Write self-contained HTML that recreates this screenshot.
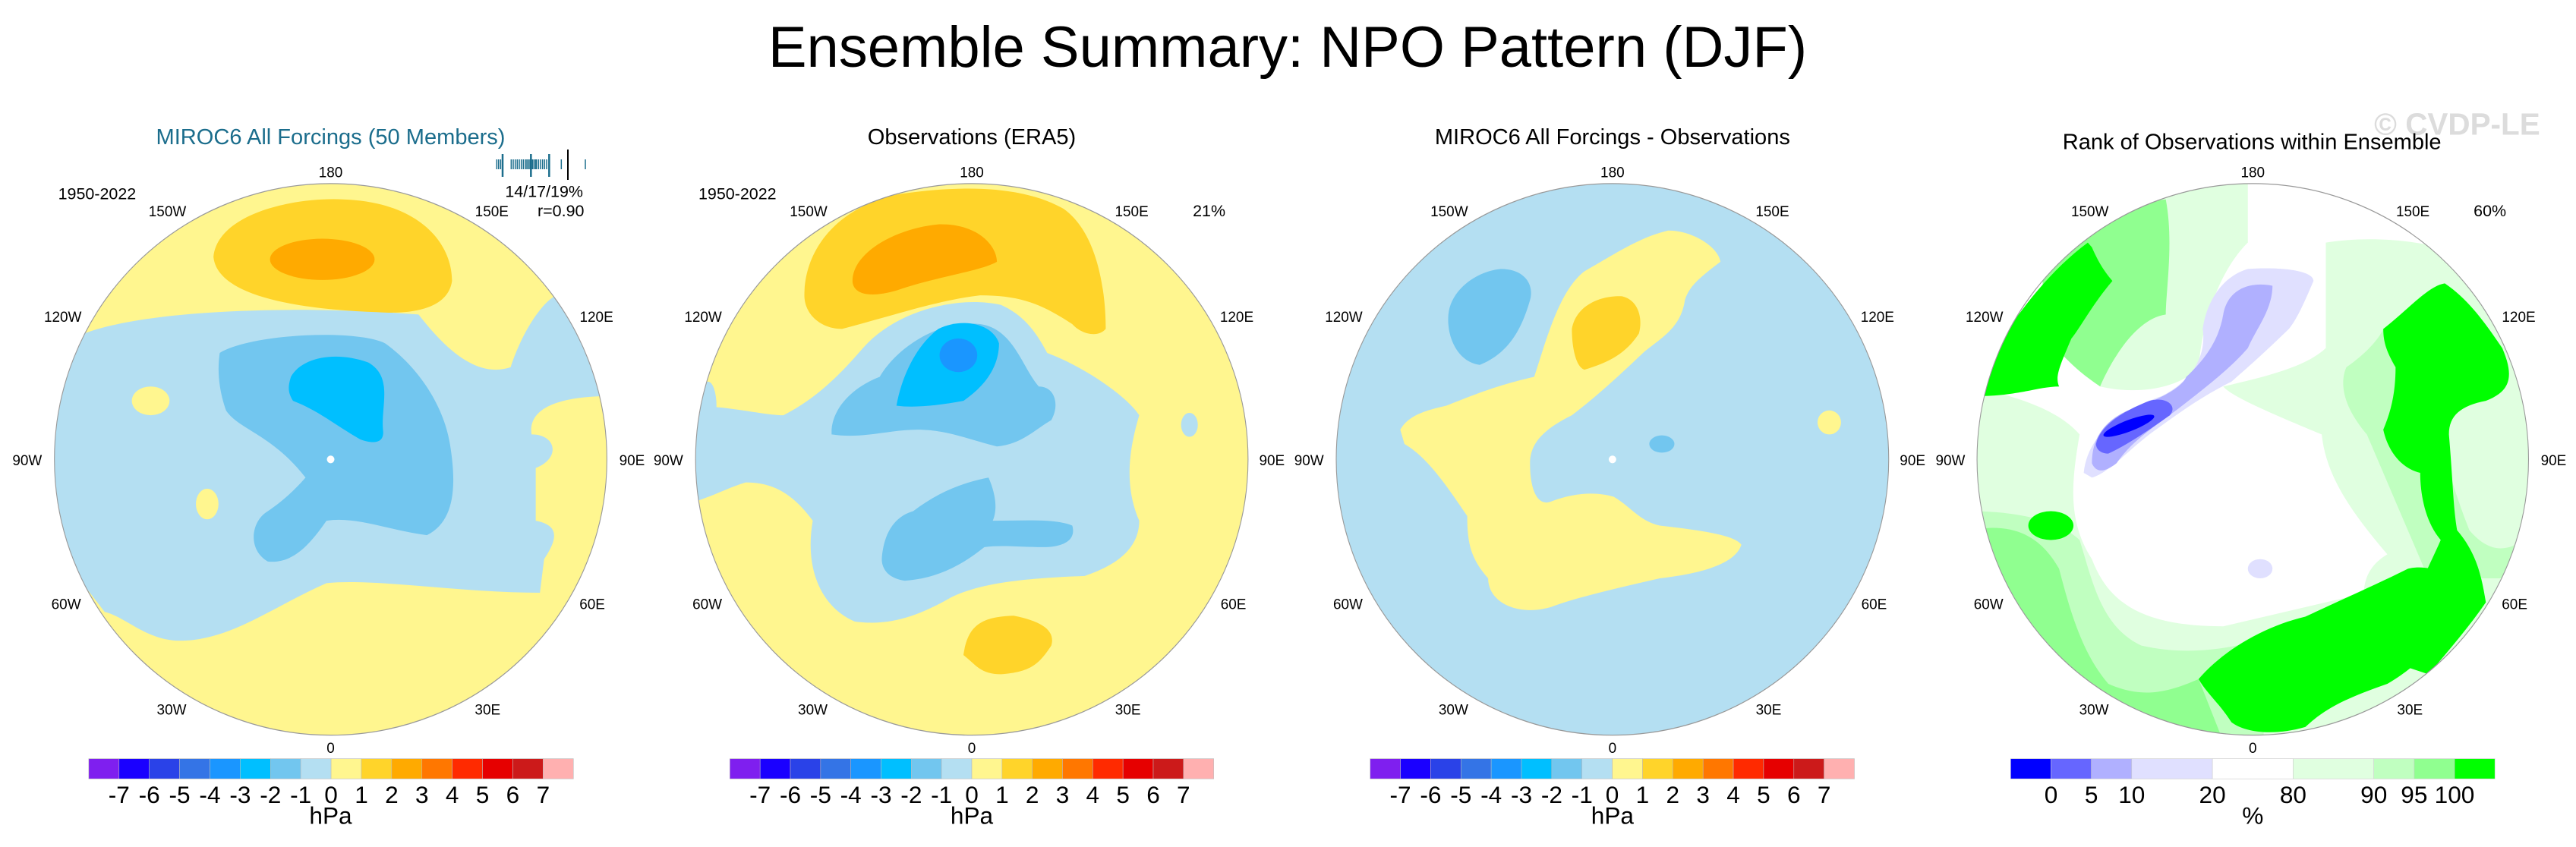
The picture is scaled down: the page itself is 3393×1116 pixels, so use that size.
<!DOCTYPE html>
<html><head><meta charset="utf-8"><style>
html,body{margin:0;padding:0;background:#fff;}
svg{display:block;font-family:"Liberation Sans",sans-serif;}
</style></head><body>
<svg id="fig" width="3393" height="1116" viewBox="0 0 3393 1116">
<defs>
<clipPath id="c1"><ellipse cx="790" cy="752" rx="660" ry="575"/></clipPath>
<clipPath id="c2"><ellipse cx="780" cy="752" rx="660" ry="575"/></clipPath>
<clipPath id="c3"><ellipse cx="787" cy="752" rx="660" ry="575"/></clipPath>
<clipPath id="c4"><ellipse cx="772" cy="752" rx="672" ry="575"/></clipPath>
</defs>
<text x="1696" y="88" font-size="76" text-anchor="middle" fill="#000">Ensemble Summary: NPO Pattern (DJF)</text>

<!-- Panel 1 -->
<g id="p1" class="pnl" data-k="1.146" transform="translate(0,130) scale(0.5513,0.632)">
 <g clip-path="url(#c1)">
  <ellipse cx="790" cy="752" rx="660" ry="575" fill="#fff68f"/>
  <path fill="#b4dff2" d="M 100 560 L 200 490 C 350 440, 700 430, 1000 450 C 1080 540, 1150 580, 1220 560 C 1250 480, 1300 420, 1330 410 L 1460 600 L 1460 620 C 1350 620, 1260 640, 1270 700 C 1330 700, 1340 750, 1280 770 L 1280 880 C 1340 890, 1330 920, 1300 960 L 1290 1030 C 1100 1030, 900 1000, 780 1010 C 650 1060, 550 1130, 430 1130 C 350 1130, 300 1080, 250 1070 L 100 900 Z"/>
  <ellipse cx="360" cy="630" rx="45" ry="30" fill="#fff68f"/>
  <ellipse cx="495" cy="845" rx="27" ry="32" fill="#fff68f"/>
  <path fill="#ffd42a" d="M 510 330 C 520 240, 700 205, 820 210 C 1000 215, 1080 300, 1080 380 C 1070 440, 980 450, 900 445 C 750 440, 520 420, 510 330 Z"/>
  <ellipse cx="770" cy="335" rx="125" ry="43" fill="#ffaa00"/>
  <path fill="#72c6ef" d="M 525 530 C 600 490, 850 480, 920 510 C 1000 560, 1060 640, 1075 720 C 1090 800, 1090 880, 1020 910 C 930 900, 850 870, 780 880 C 740 930, 700 970, 640 965 C 590 940, 600 880, 640 860 C 690 830, 720 800, 730 790 C 650 700, 570 690, 540 650 C 520 600, 520 560, 525 530 Z"/>
  <path fill="#00bfff" d="M 695 580 C 720 540, 800 525, 880 550 C 940 580, 910 640, 915 690 C 920 720, 890 720, 860 710 C 800 680, 760 650, 700 630 C 685 610, 690 595, 695 580 Z"/>
  <ellipse cx="790" cy="752" rx="9" ry="8" fill="#fff"/>
 </g>
 <ellipse cx="790" cy="752" rx="660" ry="575" fill="none" stroke="#999" stroke-width="2"/>
 <text x="790" y="95" font-size="46" text-anchor="middle" fill="#1b6d8c">MIROC6 All Forcings (50 Members)</text>
 <g font-size="30" text-anchor="middle" fill="#000">
  <text x="790" y="164">180</text><text x="400" y="245">150W</text><text x="1175" y="245">150E</text>
  <text x="150" y="465">120W</text><text x="1425" y="465">120E</text><text x="65" y="764">90W</text><text x="1510" y="764">90E</text>
  <text x="158" y="1064">60W</text><text x="1415" y="1064">60E</text><text x="410" y="1284">30W</text><text x="1165" y="1284">30E</text><text x="790" y="1364">0</text>
 </g>
 <text x="232" y="210" font-size="34" text-anchor="middle">1950-2022</text>
 <text x="1300" y="205" font-size="34" text-anchor="middle">14/17/19%</text>
 <text x="1340" y="245" font-size="34" text-anchor="middle">r=0.90</text>
 <g id="cb1"></g>
</g>
<g id="memberTicks"></g>

<!-- Panel 2 -->
<g id="p2" class="pnl" data-k="1.146" transform="translate(850,130) scale(0.5513,0.632)">
 <g clip-path="url(#c2)">
  <ellipse cx="780" cy="752" rx="660" ry="575" fill="#fff68f"/>
  <path fill="#b4dff2" d="M 100 640 C 200 640, 280 660, 330 660 C 420 620, 480 560, 520 520 C 600 440, 750 410, 850 430 C 900 450, 930 480, 960 530 C 1050 560, 1150 620, 1180 660 C 1160 720, 1140 800, 1180 880 C 1180 950, 1100 980, 1050 995 C 900 1000, 800 1010, 730 1040 C 650 1080, 580 1100, 500 1090 C 420 1060, 380 980, 400 880 C 350 820, 300 800, 240 800 C 200 810, 160 830, 100 845 Z"/>
  <ellipse cx="150" cy="640" rx="20" ry="50" fill="#b4dff2"/>
  <path fill="#72c6ef" d="M 445 690 C 450 640, 500 600, 560 580 C 600 520, 700 460, 800 470 C 880 480, 900 560, 940 600 C 980 600, 990 640, 970 670 C 930 690, 900 720, 840 725 C 770 710, 720 690, 650 690 C 580 690, 520 710, 445 700 Z"/>
  <path fill="#72c6ef" d="M 565 960 C 570 900, 600 870, 640 860 C 700 820, 760 800, 820 790 C 840 830, 840 860, 830 880 C 900 880, 980 875, 1020 890 C 1030 920, 1000 935, 950 935 C 900 935, 850 930, 810 935 C 760 970, 700 1000, 620 1005 C 580 1000, 565 980, 565 960 Z"/>
  <path fill="#00bfff" d="M 600 640 C 610 590, 640 520, 700 480 C 760 455, 830 470, 845 510 C 845 560, 810 600, 760 630 C 700 640, 640 645, 600 640 Z"/>
  <ellipse cx="748" cy="535" rx="45" ry="35" fill="#1a96ff"/>
  <path fill="#ffd42a" d="M 380 410 C 380 320, 450 230, 600 200 C 750 180, 900 180, 1000 230 C 1080 280, 1100 400, 1100 480 C 1080 500, 1040 490, 1020 470 C 950 430, 900 410, 800 410 C 700 420, 600 450, 470 480 C 420 480, 380 450, 380 410 Z"/>
  <path fill="#ffaa00" d="M 495 380 C 495 320, 600 270, 700 262 C 800 260, 840 310, 840 340 C 800 360, 700 370, 600 400 C 520 420, 495 400, 495 380 Z"/>
  <path fill="#ffd42a" d="M 760 1160 C 770 1100, 800 1080, 880 1078 C 950 1090, 980 1110, 970 1140 C 940 1180, 920 1195, 850 1200 C 800 1200, 790 1180, 760 1160 Z"/>
  <ellipse cx="1300" cy="680" rx="20" ry="25" fill="#b4dff2"/>
 </g>
 <ellipse cx="780" cy="752" rx="660" ry="575" fill="none" stroke="#999" stroke-width="2"/>
 <text x="780" y="95" font-size="46" text-anchor="middle">Observations (ERA5)</text>
 <g font-size="30" text-anchor="middle">
  <text x="780" y="164">180</text><text x="390" y="245">150W</text><text x="1162" y="245">150E</text>
  <text x="138" y="465">120W</text><text x="1413" y="465">120E</text><text x="55" y="764">90W</text><text x="1497" y="764">90E</text>
  <text x="148" y="1064">60W</text><text x="1405" y="1064">60E</text><text x="400" y="1284">30W</text><text x="1153" y="1284">30E</text><text x="780" y="1364">0</text>
 </g>
 <text x="220" y="210" font-size="34" text-anchor="middle">1950-2022</text>
 <text x="1347" y="245" font-size="34" text-anchor="middle">21%</text>
 <g id="cb2"></g>
</g>

<!-- Panel 3 -->
<g id="p3" class="pnl" data-k="1.146" transform="translate(1690,130) scale(0.5513,0.632)">
 <g clip-path="url(#c3)">
  <ellipse cx="787" cy="752" rx="660" ry="575" fill="#b4dff2"/>
  <path fill="#fff68f" d="M 280 690 C 300 660, 340 650, 390 640 C 450 620, 500 600, 600 580 C 630 500, 660 400, 720 360 C 800 320, 850 290, 920 275 C 980 275, 1040 310, 1045 340 C 1000 370, 970 390, 960 420 C 950 480, 900 500, 860 530 C 800 580, 750 620, 690 660 C 620 690, 590 720, 590 760 C 590 820, 610 850, 640 840 C 700 820, 750 820, 790 830 C 830 850, 850 880, 900 890 C 1000 900, 1080 910, 1095 930 C 1080 970, 1000 990, 900 1000 C 800 1020, 700 1040, 640 1060 C 560 1080, 490 1050, 490 1000 C 450 960, 440 930, 440 870 C 400 820, 350 750, 290 720 Z"/>
  <path fill="#ffd42a" d="M 690 480 C 700 430, 760 410, 810 412 C 850 420, 860 460, 850 490 C 820 530, 780 550, 720 565 C 700 560, 690 520, 690 480 Z"/>
  <path fill="#72c6ef" d="M 395 450 C 400 400, 460 360, 520 355 C 580 355, 600 390, 590 420 C 570 480, 540 530, 470 555 C 420 550, 390 500, 395 450 Z"/>
  <ellipse cx="905" cy="720" rx="30" ry="18" fill="#72c6ef"/>
  <ellipse cx="1305" cy="675" rx="28" ry="25" fill="#fff68f"/>
  <ellipse cx="787" cy="752" rx="9" ry="8" fill="#fff"/>
 </g>
 <ellipse cx="787" cy="752" rx="660" ry="575" fill="none" stroke="#999" stroke-width="2"/>
 <text x="787" y="95" font-size="46" text-anchor="middle">MIROC6 All Forcings - Observations</text>
 <g font-size="30" text-anchor="middle">
  <text x="787" y="164">180</text><text x="397" y="245">150W</text><text x="1169" y="245">150E</text>
  <text x="145" y="465">120W</text><text x="1420" y="465">120E</text><text x="62" y="764">90W</text><text x="1504" y="764">90E</text>
  <text x="155" y="1064">60W</text><text x="1412" y="1064">60E</text><text x="407" y="1284">30W</text><text x="1160" y="1284">30E</text><text x="787" y="1364">0</text>
 </g>
 <g id="cb3"></g>
</g>

<!-- Panel 4 -->
<g id="p4" class="pnl" data-k="1.169" transform="translate(2550,130) scale(0.5405,0.632)">
 <g clip-path="url(#c4)">
  <ellipse cx="772" cy="752" rx="672" ry="575" fill="#ffffff"/>
  <path fill="#e0ffe0" d="M 400 170 L 760 170 L 760 300 C 700 350, 650 450, 640 560 C 600 600, 500 620, 400 600 Z"/>
  <path fill="#e0ffe0" d="M 950 300 C 1100 280, 1300 300, 1460 400 L 1460 1200 L 1100 1200 C 1050 1100, 1000 1000, 1100 950 C 1000 850, 950 780, 940 700 C 800 650, 720 620, 700 600 C 800 580, 900 560, 950 520 Z"/>
  <path fill="#e0ffe0" d="M 80 600 C 200 620, 300 650, 350 700 C 330 800, 320 880, 380 960 C 420 1050, 500 1100, 700 1100 L 1200 1000 L 1200 1340 L 80 1340 Z"/>
  <path fill="#90ff90" d="M 260 300 C 350 260, 450 220, 560 210 C 580 300, 560 400, 560 450 C 480 460, 420 560, 400 600 C 330 560, 290 520, 260 480 Z"/>
  <path fill="#c0ffc0" d="M 80 860 C 200 860, 300 880, 350 920 C 380 1000, 400 1100, 500 1140 C 600 1160, 700 1150, 780 1130 L 800 1340 L 80 1340 Z"/>
  <path fill="#90ff90" d="M 80 900 C 200 880, 260 920, 300 980 C 330 1080, 360 1160, 420 1220 C 500 1250, 560 1240, 640 1210 L 700 1340 L 80 1340 Z"/>
  <path fill="#c0ffc0" d="M 1000 560 C 1050 530, 1080 500, 1090 480 L 1150 450 C 1200 600, 1230 750, 1300 900 C 1350 950, 1400 950, 1460 900 L 1460 1000 L 1200 1000 C 1150 900, 1100 800, 1050 700 C 1000 650, 980 600, 1000 560 Z"/>
  <path fill="#00ff00" d="M 100 580 C 180 470, 260 370, 370 300 L 380 310 C 400 350, 420 370, 430 380 C 380 430, 350 480, 330 500 C 300 560, 290 580, 300 600 C 250 600, 200 620, 100 620 Z"/>
  <path fill="#00ff00" d="M 1090 480 C 1150 440, 1200 390, 1240 385 C 1300 420, 1340 470, 1380 520 C 1410 580, 1400 610, 1340 630 C 1280 640, 1250 660, 1250 700 C 1260 800, 1260 850, 1270 900 C 1320 950, 1330 1000, 1340 1050 C 1300 1100, 1250 1150, 1200 1200 L 1130 1180 C 1150 1050, 1200 980, 1230 920 C 1190 880, 1180 820, 1180 780 C 1130 770, 1100 730, 1090 690 C 1110 650, 1120 610, 1120 560 C 1100 530, 1090 510, 1090 480 Z"/>
  <path fill="#00ff00" d="M 640 1210 C 700 1150, 800 1100, 900 1080 C 1000 1040, 1080 1010, 1150 980 C 1200 970, 1250 990, 1300 1010 C 1260 1100, 1200 1170, 1100 1220 C 1000 1250, 950 1270, 900 1310 C 820 1330, 750 1320, 720 1300 C 690 1260, 660 1240, 640 1210 Z"/>
  <ellipse cx="280" cy="890" rx="55" ry="30" fill="#00ff00"/>
  <path fill="#e0e0ff" d="M 360 780 C 370 700, 450 650, 550 620 C 620 590, 660 540, 650 480 C 660 420, 700 370, 760 355 C 850 350, 920 360, 920 380 C 900 420, 880 460, 860 480 C 800 530, 760 560, 720 590 C 650 620, 600 650, 520 700 C 460 740, 420 780, 380 790 Z"/>
  <path fill="#b0b0ff" d="M 380 760 C 380 700, 420 660, 500 640 C 560 620, 600 600, 610 580 C 660 540, 690 500, 700 450 C 710 400, 760 380, 820 390 C 820 440, 780 480, 760 520 C 720 560, 660 600, 600 640 C 540 680, 480 710, 440 760 C 410 780, 390 780, 380 760 Z"/>
  <path fill="#6666ff" d="M 390 720 C 400 680, 460 650, 520 630 C 560 620, 590 640, 570 660 C 520 690, 470 720, 420 740 C 400 740, 390 730, 390 720 Z"/>
  <ellipse cx="470" cy="682" rx="65" ry="12" fill="#0000ff" transform="rotate(-18 470 682)"/>
  <ellipse cx="790" cy="980" rx="30" ry="20" fill="#e0e0ff"/>
 </g>
 <ellipse cx="772" cy="752" rx="672" ry="575" fill="none" stroke="#999" stroke-width="2"/>
 <text x="1270" y="75" font-size="64" font-weight="bold" text-anchor="middle" fill="#dcdcdc">© CVDP-LE</text>
 <text x="770" y="105" font-size="46" text-anchor="middle">Rank of Observations within Ensemble</text>
 <g font-size="30" text-anchor="middle">
  <text x="772" y="164">180</text><text x="375" y="245">150W</text><text x="1162" y="245">150E</text>
  <text x="118" y="465">120W</text><text x="1420" y="465">120E</text><text x="35" y="764">90W</text><text x="1505" y="764">90E</text>
  <text x="128" y="1064">60W</text><text x="1410" y="1064">60E</text><text x="385" y="1284">30W</text><text x="1155" y="1284">30E</text><text x="772" y="1364">0</text>
 </g>
 <text x="1350" y="245" font-size="34" text-anchor="middle">60%</text>
 <g id="cb4"></g>
</g>
</svg>
<script>
const hpaColors = ["#7f1fef","#1a00ff","#2a42e8","#3474e6","#1a96ff","#00bfff","#72c6ef","#b4dff2","#fff68f","#ffd42a","#ffaa00","#ff7700","#ff2a00","#e60000","#cc1a1a","#ffb0b0"];
const hpaTicks = ["-7","-6","-5","-4","-3","-2","-1","0","1","2","3","4","5","6","7"];
const rankColors = ["#0000ff","#6666ff","#b0b0ff","#e0e0ff","#ffffff","#e0ffe0","#c0ffc0","#90ff90","#00ff00"];
const rankWidths = [1,1,1,2,2,2,1,1,1];
const rankTicks = ["0","5","10","20","80","90","95","100"];
const memberTickX = [163,170,178,186,220,228,236,244,252,260,268,276,282,288,294,298,304,310,316,320,328,336,344,352,360,370,418,513];
const memberTickLong = [186,298,370];
const NS = "http://www.w3.org/2000/svg";
function mk(tag, attrs, parent){const e=document.createElementNS(NS,tag);for(const k in attrs)e.setAttribute(k,attrs[k]);parent.appendChild(e);return e;}

function hpaBar(id, x0, x1, cx){
  const g=document.getElementById(id);
  const w=(x1-x0)/hpaColors.length;
  hpaColors.forEach((c,i)=>{
    const r=mk("rect",{x:x0+i*w,y:1376,width:w,height:42,fill:c,stroke:"#bbb","stroke-width":1},g);
    
    
  });
  hpaTicks.forEach((t,i)=>{
    const tx=mk("text",{x:x0+(i+1)*w,y:1468,"font-size":50,"text-anchor":"middle"},g);
    tx.textContent=t;
    
    
  });
  const u=mk("text",{x:cx,y:1512,"font-size":50,"text-anchor":"middle"},g);
  u.textContent="hPa";
  
  
}
hpaBar("cb1",212,1370,790);
hpaBar("cb2",202,1358,780);
hpaBar("cb3",208,1365,787);

(function(){
  const g=document.getElementById("cb4");
  const x0=182,x1=1362,total=rankWidths.reduce((a,b)=>a+b,0),u=(x1-x0)/total;
  let x=x0;const bounds=[];
  rankColors.forEach((c,i)=>{
    const r=mk("rect",{x:x,y:1376,width:rankWidths[i]*u,height:42,fill:c,stroke:"#ccc","stroke-width":1},g);
    
    
    x+=rankWidths[i]*u;bounds.push(x);
  });
  rankTicks.forEach((t,i)=>{
    const tx=mk("text",{x:bounds[i],y:1468,"font-size":50,"text-anchor":"middle"},g);
    tx.textContent=t;
    
    
  });
  const un=mk("text",{x:772,y:1512,"font-size":50,"text-anchor":"middle"},g);
  un.textContent="%";
  
  
})();

(function(){
  const g=document.getElementById("memberTicks");
  memberTickX.forEach(zx=>{
    const X=600+zx/3, long=memberTickLong.includes(zx);
    const l=mk("line",{x1:X,x2:X,y1:long?203:210,y2:long?233:223,stroke:"#1b6d8c","stroke-width":long?2.5:1.5},g);
    
    
  });
  const o=mk("line",{x1:748,x2:748,y1:197,y2:237,stroke:"#000","stroke-width":2},g);
  
  
})();

// undo the non-uniform stretch on text so glyphs keep their natural aspect
document.querySelectorAll("g.pnl").forEach(p=>{
  const k=parseFloat(p.getAttribute("data-k"));
  p.querySelectorAll("text").forEach(t=>{
    const x=parseFloat(t.getAttribute("x"));
    t.setAttribute("x", x/k);
    t.setAttribute("transform","scale("+k+",1)");
  });
});
</script>
</body></html>
